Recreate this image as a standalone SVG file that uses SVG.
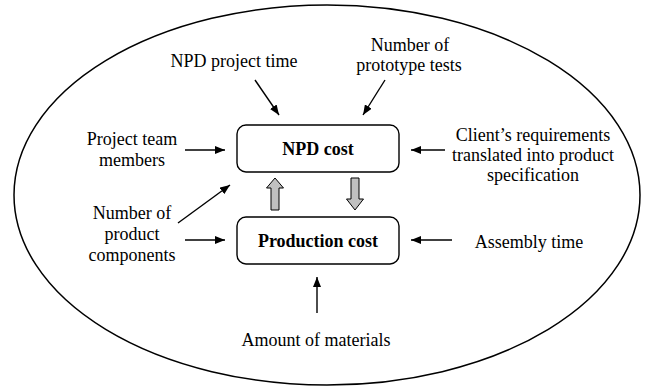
<svg xmlns="http://www.w3.org/2000/svg" width="645" height="387" viewBox="0 0 645 387" font-family="'Liberation Serif', 'Times New Roman', 'DejaVu Serif', serif">
<defs>
<style>
text{font-family:'Liberation Serif','Times New Roman','DejaVu Serif',serif;font-size:18px;fill:#000;text-anchor:middle}
.b{font-weight:bold}
.box{fill:#fff;stroke:#000;stroke-width:1.4}
.ln{stroke:#000;stroke-width:1.4;fill:none;marker-end:url(#ah)}
.fat{fill:#c0c0c0;stroke:#000;stroke-width:1}
</style>
<marker id="ah" viewBox="0 0 10 8" refX="10" refY="4" markerWidth="10" markerHeight="8" markerUnits="userSpaceOnUse" orient="auto">
<path d="M0,0 L10,4 L0,8 Z" fill="#000"/>
</marker>
</defs>
<rect width="645" height="387" fill="#fff"/>
<ellipse cx="327" cy="195" rx="313" ry="190" fill="none" stroke="#000" stroke-width="1.5"/>
<g id="npd-cost"><rect class="box" x="237" y="125" width="162" height="47" rx="9"/><text class="b" x="318" y="155">NPD cost</text></g>
<g id="production-cost"><rect class="box" x="237" y="217" width="162" height="47" rx="9"/><text class="b" x="318" y="247">Production cost</text></g>
<g id="npd-project-time"><text x="234" y="67">NPD project time</text></g>
<g id="prototype-tests"><text x="410" y="51">Number of</text><text x="409" y="71">prototype tests</text></g>
<g id="team-members"><text x="132" y="145">Project team</text><text x="132" y="166">members</text></g>
<g id="product-components"><text x="132" y="219">Number of</text><text x="132" y="240">product</text><text x="132" y="261">components</text></g>
<g id="client-requirements"><text x="533" y="141">Client’s requirements</text><text x="533" y="161">translated into product</text><text x="533" y="181">specification</text></g>
<g id="assembly-time"><text x="529" y="248">Assembly time</text></g>
<g id="materials"><text x="316" y="346">Amount of materials</text></g>
<g id="connectors">
<line class="ln" x1="255" y1="80" x2="279" y2="115"/>
<line class="ln" x1="385" y1="80" x2="363" y2="115"/>
<line class="ln" x1="185" y1="150" x2="225" y2="150"/>
<line class="ln" x1="178" y1="223" x2="230" y2="185"/>
<line class="ln" x1="185" y1="240" x2="225" y2="240"/>
<line class="ln" x1="445" y1="150" x2="411" y2="150"/>
<line class="ln" x1="452" y1="240" x2="411" y2="240"/>
<line class="ln" x1="317" y1="313" x2="317" y2="277"/>
<path class="fat" d="M271,210 L271,188 L266.5,188 L275,178 L283.5,188 L279,188 L279,210 Z"/>
<path class="fat" d="M351,178 L359,178 L359,199 L363.5,199 L355,210 L346.5,199 L351,199 Z"/>
</g>
</svg>
